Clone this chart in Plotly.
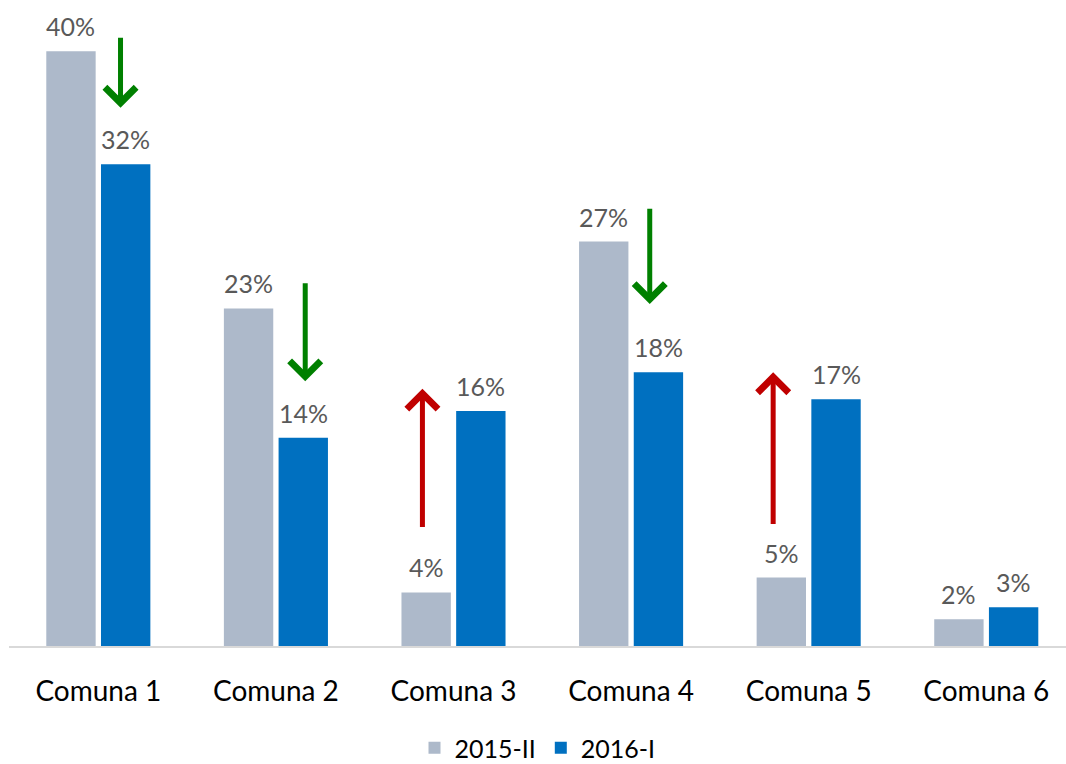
import plotly.graph_objects as go

categories = ['Comuna 1', 'Comuna 2', 'Comuna 3', 'Comuna 4', 'Comuna 5', 'Comuna 6']
series_names = ['2015-II', '2016-I']
values_2015_ii = [40.0, 22.7, 3.6, 27.2, 4.6, 1.8]
values_2016_i = [32.4, 14.0, 15.8, 18.4, 16.6, 2.6]

# change arrows: category index, x offset, tail value, head value, trend
arrow_category = [0, 1, 2, 3, 4]
arrow_offset = [0.125, 0.165, -0.175, 0.105, -0.2]
arrow_from = [41.0, 24.5, 7.9, 29.5, 8.1]
arrow_to = [36.2, 17.8, 17.3, 23.0, 18.4]
arrow_trend = ['down', 'down', 'up', 'down', 'up']

colors = ['#adb9ca', '#0070c0']
trend_colors = {'down': '#008000', 'up': '#c00000'}
font_family = 'Lato, Open Sans, sans-serif'

bar_width = 0.278
offsets = [-0.293, 0.015]

fig = go.Figure()
xs = list(range(len(categories)))
for name, vals, color, off in zip(series_names, [values_2015_ii, values_2016_i], colors, offsets):
    fig.add_trace(go.Bar(
        x=xs, y=vals, name=name, width=bar_width, offset=off,
        marker=dict(color=color, line=dict(width=0)),
    ))

annotations = []
for vals, off in zip([values_2015_ii, values_2016_i], offsets):
    for i, v in enumerate(vals):
        annotations.append(dict(
            x=i + off + bar_width / 2, y=v, xref='x', yref='y',
            text=f'{round(v)}%', showarrow=False, yanchor='middle', yshift=25,
            font=dict(family=font_family, size=25, color='#595959'),
        ))

for ci, off, y0, y1, trend in zip(arrow_category, arrow_offset, arrow_from, arrow_to, arrow_trend):
    annotations.append(dict(
        x=ci + off, y=y1, ax=ci + off, ay=y0, xref='x', yref='y', axref='x', ayref='y',
        text='', showarrow=True, arrowhead=4, arrowsize=1.2, arrowwidth=5,
        arrowcolor=trend_colors[trend], standoff=0, startstandoff=0,
    ))

fig.update_layout(
    width=1066, height=764,
    margin=dict(l=9, r=0, t=0, b=118, autoexpand=False),
    plot_bgcolor='white', paper_bgcolor='white',
    barmode='overlay',
    showlegend=True,
    legend=dict(orientation='h', x=0.5, xanchor='center', y=-0.158, yanchor='middle',
                font=dict(family=font_family, size=25, color='#000000'),
                itemwidth=30, traceorder='normal'),
    annotations=annotations,
    xaxis=dict(range=[-0.503, 5.449], tickvals=xs, ticktext=categories, showgrid=False,
               zeroline=False, showline=True, linecolor='#d9d9d9', linewidth=1.5,
               ticks='', ticklabelstandoff=20, automargin=False,
               tickfont=dict(family=font_family, size=28, color='#000000')),
    yaxis=dict(range=[0, 43.44], visible=False, showgrid=False, zeroline=False,
               automargin=False),
)

# drop the page's default body margin so the figure sits at the window corner
fig.write_html('out.html', config={'displayModeBar': False},
               post_script="document.body.style.margin='0';")
